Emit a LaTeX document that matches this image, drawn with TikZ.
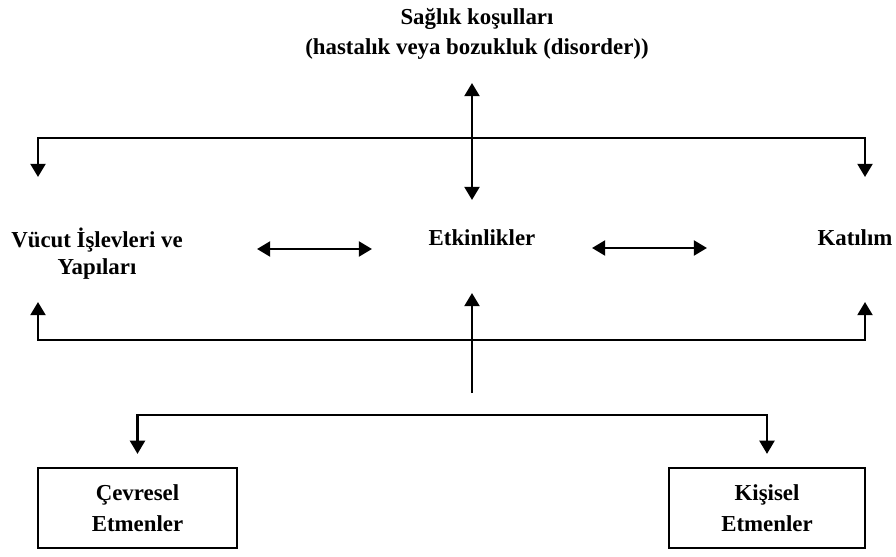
\documentclass[tikz,border=0pt]{standalone}
\usepackage{fontspec}
\setmainfont{Liberation Serif}
\usetikzlibrary{arrows.meta}

\tikzset{
  lbl/.style={font=\bfseries\fontsize{13}{17.5}\selectfont, align=center, inner sep=0pt},
  kutu/.style={lbl, draw, line width=1.3pt, minimum height=1.6cm},
  hat/.style={line width=1.4pt},
  ok/.style={hat, -{Triangle[width=8.5pt,length=7.5pt]}},
  cok/.style={hat, {Triangle[width=8.5pt,length=7.5pt]}-{Triangle[width=8.5pt,length=7.5pt]}}
}

\begin{document}
\begin{tikzpicture}[x=0.02cm,y=-0.02cm]
\useasboundingbox (0,0) rectangle (896,557);

% metinler
\node[lbl] (saglik) at (477,34) {Sağlık koşulları\\(hastalık veya bozukluk (disorder))};
\node[lbl, font=\bfseries\fontsize{13}{15.5}\selectfont] (vucut) at (97,254) {Vücut İşlevleri ve\\Yapıları};
\node[lbl] (etkin) at (482,238) {Etkinlikler};
\node[lbl] (katilim) at (855,238) {Katılım};
\node[kutu, minimum width=3.98cm] (cevre) at (137.5,508) {Çevresel\\Etmenler};
\node[kutu, minimum width=3.92cm] (kisi) at (767,508) {Kişisel\\Etmenler};

% baglanti noktalari
\coordinate (s1) at (472,83);
\coordinate (s2) at (472,200);
\coordinate (u1) at (38,138);
\coordinate (u2) at (865,138);
\coordinate (v1) at (38,177);
\coordinate (kt1) at (865,177);
\coordinate (a1) at (38,340);
\coordinate (a2) at (865,340);
\coordinate (v2) at (38,302);
\coordinate (kt2) at (865,302);
\coordinate (h1) at (257,249);
\coordinate (h2) at (372,249);
\coordinate (h3) at (592,248);
\coordinate (h4) at (707,248);
\coordinate (e1) at (472,393);
\coordinate (e2) at (472,293);
\coordinate (k1) at (137.5,415);
\coordinate (k2) at (767,415);

% oklar
\draw[cok] (s1) -- (s2);
\draw[cok] (v1) -- (u1) -- (u2) -- (kt1);
\draw[cok] (v2) -- (a1) -- (a2) -- (kt2);
\draw[cok] (h1) -- (h2);
\draw[cok] (h3) -- (h4);
\draw[ok] (e1) -- (e2);
\draw[cok, shorten <=0.26cm, shorten >=0.26cm] (cevre) -- (k1) -- (k2) -- (kisi);
\end{tikzpicture}
\end{document}
